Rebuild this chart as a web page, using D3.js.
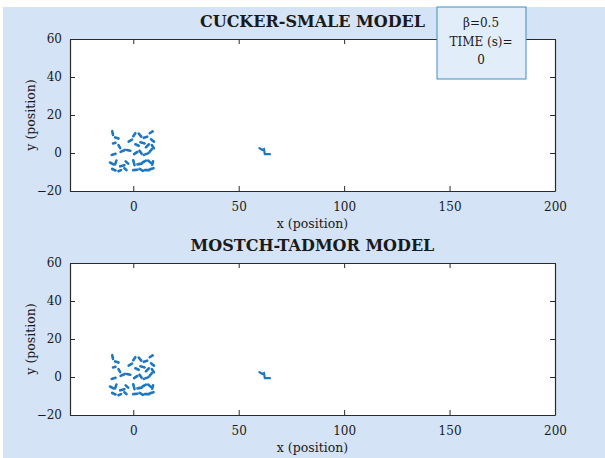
<!DOCTYPE html>
<html>
<head>
<meta charset="utf-8">
<script src="https://cdn.jsdelivr.net/npm/d3@7"></script>
<style>
  body { margin: 0; background: #ffffff; }
  text { font-family: "DejaVu Serif", serif; fill: #1a1a1a; }
</style>
</head>
<body>
<div id="vis"></div>
<script>
// values
var xTicks = [0, 50, 100, 150, 200];
var yTicks = [-20, 0, 20, 40, 60];
var xDomain = [-30, 200];
var yDomain = [-20, 60];
var titles = ["CUCKER-SMALE MODEL", "MOSTCH-TADMOR MODEL"];
var legendLines = ["\u03B2=0.5", "TIME (s)=", "0"];

// each particle: start x, start y, end x, end y
var swarm = [
  [-10, 11.5, -9.6, 9.5], [-8.6, 8.2, -7.0, 7.6], [0, 8.8, 1.0, 10.4], [2.6, 10.2, 3.8, 8.6],
  [5.0, 8.0, 6.6, 8.6], [7.8, 10.4, 9.2, 11.4], [8.4, 7.2, 9.8, 6.0],
  [-9.6, 5.0, -8.4, 5.4], [-7.0, 4.2, -6.2, 2.6], [-2.2, 6.0, -0.6, 7.0], [1.0, 4.6, 2.6, 3.8],
  [3.4, 5.6, 5.4, 5.0], [6.0, 3.0, 7.4, 4.6], [8.8, 4.2, 9.8, 2.4],
  [-10.2, -1.0, -8.4, -0.4], [-6.0, 0.6, -4.0, 1.6], [-3.0, 1.6, -1.4, 1.2], [0.4, -0.6, 2.0, 0.6],
  [3.0, 1.2, 4.0, -0.4], [5.0, -1.0, 7.0, -0.2], [7.6, 0.4, 8.8, 2.0],
  [-11.0, -5.0, -9.4, -6.0], [-8.0, -4.0, -8.6, -6.0], [-6.2, -7.0, -4.2, -6.4], [-3.6, -4.4, -2.4, -5.6],
  [0.0, -3.8, 0.6, -6.4], [2.0, -6.0, 4.0, -5.6], [4.4, -5.0, 6.0, -4.0], [7.0, -4.0, 8.6, -5.4],
  [9.0, -6.2, 9.4, -4.4],
  [-10.0, -8.4, -8.4, -9.2], [-7.0, -9.6, -5.8, -9.0], [-4.2, -8.0, -3.2, -9.0], [0.0, -9.0, 2.0, -8.8],
  [3.0, -8.4, 4.6, -9.4], [5.4, -9.0, 7.6, -9.0], [8.0, -8.6, 9.6, -8.0]
];
// the lone particle near x = 62
var stragglerX = [59.8, 61.2, 62.0, 62.4, 64.8];
var stragglerY = [2.6, 1.6, 2.0, -0.6, -0.6];

var panels = [
  { title: titles[0], top: 39, legend: true },
  { title: titles[1], top: 263, legend: false }
];

class swarmPlot{
    constructor(){
        this.width = 605,
        this.height = 458,
        this.left = 70,
        this.right = 555,
        this.plotH = 152,
        this.svg
    }

    init(elementID){
        this.svg = d3.select('#'+elementID)
            .append("svg")
            .attr("width", this.width)
            .attr("height", this.height);

        // light blue figure background, thin white margin top/left
        this.svg.append("rect")
            .attr("x", 3).attr("y", 7)
            .attr("width", this.width - 3).attr("height", this.height - 7)
            .attr("fill", "#d4e3f6");

        panels.forEach(p => this.draw(p));
    }

    draw(p){
        let x = d3.scaleLinear().domain(xDomain).range([this.left, this.right]);
        let y = d3.scaleLinear().domain(yDomain).range([p.top + this.plotH, p.top]);
        let g = this.svg.append("g");

        g.append("rect")
            .attr("x", this.left).attr("y", p.top)
            .attr("width", this.right - this.left).attr("height", this.plotH)
            .attr("fill", "#ffffff");

        // particles
        let line = d3.line().x(d => x(d[0])).y(d => y(d[1]));
        g.selectAll(".seg").data(swarm).enter()
            .append("path")
            .attr("class", "seg")
            .attr("d", d => line([[d[0], d[1]], [d[2], d[3]]]))
            .attr("stroke", "#1f77c0")
            .attr("stroke-width", 2.6)
            .attr("stroke-linecap", "round")
            .attr("fill", "none");

        g.append("path")
            .attr("d", line(stragglerX.map((v, i) => [v, stragglerY[i]])))
            .attr("stroke", "#1f77c0")
            .attr("stroke-width", 2.2)
            .attr("stroke-linecap", "round")
            .attr("fill", "none");

        // axes on all four sides, inward ticks
        let bottom = d3.axisBottom(x).tickValues(xTicks).tickSizeInner(-5).tickSizeOuter(0).tickPadding(11);
        let top = d3.axisTop(x).tickValues(xTicks).tickSizeInner(-5).tickSizeOuter(0).tickFormat("");
        let leftAx = d3.axisLeft(y).tickValues(yTicks).tickSizeInner(-5).tickSizeOuter(0).tickPadding(8);
        let rightAx = d3.axisRight(y).tickValues(yTicks).tickSizeInner(-5).tickSizeOuter(0).tickFormat("");

        [[bottom, "translate(0," + (p.top + this.plotH) + ")"],
         [top, "translate(0," + p.top + ")"],
         [leftAx, "translate(" + this.left + ",0)"],
         [rightAx, "translate(" + this.right + ",0)"]].forEach(a => {
            let ax = g.append("g").attr("transform", a[1]).call(a[0]);
            ax.select(".domain").attr("stroke", "#2b2b2b").attr("stroke-width", 1.2);
            ax.selectAll(".tick line").attr("stroke", "#2b2b2b");
            ax.selectAll("text").style("font-family", "DejaVu Serif").style("font-size", "12px").attr("fill", "#1a1a1a");
        });

        g.append("text")
            .attr("x", (this.left + this.right) / 2)
            .attr("y", p.top + this.plotH + 37)
            .attr("text-anchor", "middle")
            .style("font-size", "12.5px")
            .text("x (position)");

        g.append("text")
            .attr("transform", "translate(35," + (p.top + this.plotH / 2) + ") rotate(-90)")
            .attr("text-anchor", "middle")
            .style("font-size", "12.5px")
            .text("y (position)");

        g.append("text")
            .attr("x", (this.left + this.right) / 2)
            .attr("y", p.top - 12)
            .attr("text-anchor", "middle")
            .style("font-size", "16px")
            .style("font-weight", "bold")
            .text(p.title);

        if (p.legend){
            let lg = g.append("g");
            lg.append("rect")
                .attr("x", 437).attr("y", 7)
                .attr("width", 89).attr("height", 72)
                .attr("fill", "#e2edfa")
                .attr("stroke", "#3d8fc2")
                .attr("stroke-width", 1);
            lg.selectAll(".lgtext").data(legendLines).enter()
                .append("text")
                .attr("class", "lgtext")
                .attr("x", 481)
                .attr("y", (d, i) => 27 + i * 18.5)
                .attr("text-anchor", "middle")
                .style("font-size", "12px")
                .text(d => d);
        }
    }
}

var chart = new swarmPlot();
chart.init("vis");
</script>
</body>
</html>
